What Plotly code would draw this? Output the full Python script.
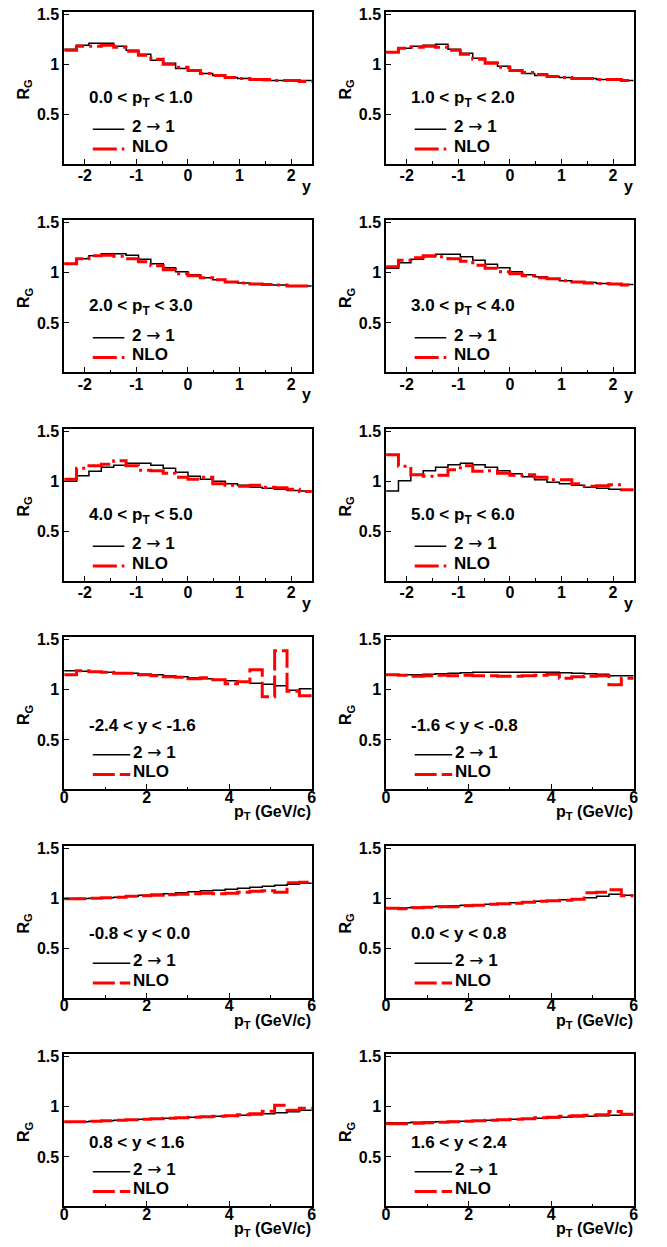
import numpy as np
import plotly.graph_objects as go

W, H = 667, 1247

# ---------------- data ----------------
y_edges = np.round(np.linspace(-2.4, 2.4, 21), 3)   # 20 bins of rapidity
pt_edges = np.round(np.linspace(0.0, 6.0, 21), 3)   # 20 bins of pT

# R_G vs y in pT slices
y_pt01_21 = [1.15, 1.19, 1.21, 1.21, 1.18, 1.14, 1.10, 1.04, 1.01, 0.96, 0.94, 0.91, 0.89, 0.87, 0.86, 0.85, 0.84, 0.84, 0.84, 0.84]
y_pt01_nlo = [1.14, 1.18, 1.18, 1.19, 1.17, 1.13, 1.09, 1.05, 1.00, 0.97, 0.94, 0.91, 0.89, 0.87, 0.86, 0.85, 0.85, 0.84, 0.84, 0.83]
y_pt12_21 = [1.12, 1.16, 1.18, 1.19, 1.20, 1.15, 1.11, 1.06, 1.02, 0.98, 0.94, 0.91, 0.89, 0.88, 0.87, 0.86, 0.86, 0.85, 0.85, 0.84]
y_pt12_nlo = [1.12, 1.16, 1.17, 1.18, 1.17, 1.14, 1.10, 1.05, 1.01, 0.97, 0.94, 0.92, 0.90, 0.88, 0.87, 0.86, 0.86, 0.85, 0.85, 0.84]
y_pt23_21 = [1.09, 1.14, 1.17, 1.19, 1.19, 1.175, 1.135, 1.09, 1.05, 1.01, 0.98, 0.95, 0.93, 0.91, 0.90, 0.89, 0.88, 0.88, 0.87, 0.87]
y_pt23_nlo = [1.09, 1.14, 1.17, 1.175, 1.165, 1.14, 1.11, 1.07, 1.03, 0.99, 0.97, 0.95, 0.93, 0.91, 0.90, 0.89, 0.885, 0.88, 0.87, 0.87]
y_pt34_21 = [1.045, 1.10, 1.135, 1.16, 1.185, 1.185, 1.16, 1.125, 1.085, 1.05, 1.01, 0.98, 0.96, 0.94, 0.92, 0.91, 0.905, 0.895, 0.89, 0.885]
y_pt34_nlo = [1.06, 1.125, 1.15, 1.17, 1.16, 1.14, 1.115, 1.075, 1.045, 1.01, 0.99, 0.97, 0.95, 0.94, 0.92, 0.91, 0.90, 0.895, 0.89, 0.88]
y_pt45_21 = [1.00, 1.055, 1.10, 1.14, 1.16, 1.18, 1.18, 1.16, 1.13, 1.09, 1.05, 1.02, 1.00, 0.975, 0.96, 0.94, 0.93, 0.92, 0.91, 0.905]
y_pt45_nlo = [1.02, 1.13, 1.155, 1.17, 1.205, 1.155, 1.11, 1.105, 1.08, 1.04, 1.02, 1.04, 0.975, 0.96, 0.95, 0.96, 0.94, 0.935, 0.92, 0.90]
y_pt56_21 = [0.905, 1.005, 1.065, 1.105, 1.14, 1.165, 1.18, 1.165, 1.14, 1.105, 1.075, 1.045, 1.015, 0.99, 0.975, 0.96, 0.94, 0.93, 0.92, 0.915]
y_pt56_nlo = [1.265, 1.15, 1.065, 1.05, 1.06, 1.115, 1.155, 1.10, 1.105, 1.08, 1.06, 1.065, 1.04, 1.015, 1.015, 0.975, 0.95, 0.955, 0.965, 0.915]

# R_G vs pT in y slices
pt_ym24_21 = [1.19, 1.185, 1.18, 1.175, 1.17, 1.165, 1.155, 1.15, 1.14, 1.13, 1.12, 1.11, 1.10, 1.09, 1.08, 1.065, 1.055, 1.04, 0.995, 1.01]
pt_ym24_nlo = [1.15, 1.19, 1.18, 1.175, 1.165, 1.165, 1.15, 1.14, 1.13, 1.125, 1.11, 1.12, 1.10, 1.06, 1.08, 1.20, 0.93, 1.39, 0.985, 0.94]
pt_ym16_21 = [1.15, 1.15, 1.15, 1.155, 1.16, 1.165, 1.17, 1.175, 1.175, 1.175, 1.175, 1.175, 1.175, 1.175, 1.17, 1.165, 1.16, 1.155, 1.14, 1.14]
pt_ym16_nlo = [1.15, 1.145, 1.135, 1.14, 1.145, 1.14, 1.145, 1.14, 1.14, 1.135, 1.135, 1.14, 1.145, 1.155, 1.115, 1.13, 1.135, 1.14, 1.05, 1.115]
pt_ym08_21 = [0.995, 0.998, 1.0, 1.005, 1.01, 1.02, 1.03, 1.04, 1.045, 1.055, 1.065, 1.075, 1.08, 1.09, 1.10, 1.11, 1.12, 1.13, 1.14, 1.15]
pt_ym08_nlo = [0.995, 0.995, 1.0, 1.005, 1.01, 1.02, 1.025, 1.03, 1.035, 1.04, 1.045, 1.05, 1.045, 1.05, 1.06, 1.07, 1.075, 1.06, 1.155, 1.16]
pt_y00_21 = [0.905, 0.905, 0.91, 0.915, 0.92, 0.925, 0.93, 0.935, 0.94, 0.945, 0.955, 0.96, 0.97, 0.975, 0.985, 0.995, 1.005, 1.02, 1.04, 1.03]
pt_y00_nlo = [0.90, 0.895, 0.905, 0.91, 0.915, 0.915, 0.925, 0.93, 0.94, 0.945, 0.95, 0.96, 0.97, 0.975, 0.98, 0.99, 1.055, 1.06, 1.085, 1.025]
pt_y08_21 = [0.85, 0.852, 0.855, 0.86, 0.865, 0.87, 0.875, 0.88, 0.885, 0.89, 0.895, 0.90, 0.905, 0.91, 0.915, 0.92, 0.93, 0.94, 0.95, 0.965]
pt_y08_nlo = [0.85, 0.85, 0.855, 0.86, 0.865, 0.87, 0.875, 0.88, 0.885, 0.89, 0.895, 0.90, 0.905, 0.91, 0.92, 0.93, 0.955, 1.015, 0.967, 0.987]
pt_y16_21 = [0.84, 0.842, 0.845, 0.848, 0.85, 0.853, 0.856, 0.86, 0.865, 0.87, 0.875, 0.88, 0.885, 0.89, 0.895, 0.90, 0.905, 0.91, 0.915, 0.92]
pt_y16_nlo = [0.83, 0.83, 0.835, 0.84, 0.845, 0.85, 0.855, 0.86, 0.865, 0.87, 0.875, 0.88, 0.89, 0.895, 0.905, 0.91, 0.915, 0.92, 0.954, 0.927]

y_slice_labels = ["0.0 &lt; p<sub>T</sub> &lt; 1.0", "1.0 &lt; p<sub>T</sub> &lt; 2.0",
                  "2.0 &lt; p<sub>T</sub> &lt; 3.0", "3.0 &lt; p<sub>T</sub> &lt; 4.0",
                  "4.0 &lt; p<sub>T</sub> &lt; 5.0", "5.0 &lt; p<sub>T</sub> &lt; 6.0"]
pt_slice_labels = ["-2.4 &lt; y &lt; -1.6", "-1.6 &lt; y &lt; -0.8", "-0.8 &lt; y &lt; 0.0",
                   "0.0 &lt; y &lt; 0.8", "0.8 &lt; y &lt; 1.6", "1.6 &lt; y &lt; 2.4"]
series_names = ["2 <span style=\"font-family:'DejaVu Sans';font-weight:normal\">\u2192</span> 1", "NLO"]

panels = [
    ("y", y_slice_labels[0], y_pt01_21, y_pt01_nlo),
    ("y", y_slice_labels[1], y_pt12_21, y_pt12_nlo),
    ("y", y_slice_labels[2], y_pt23_21, y_pt23_nlo),
    ("y", y_slice_labels[3], y_pt34_21, y_pt34_nlo),
    ("y", y_slice_labels[4], y_pt45_21, y_pt45_nlo),
    ("y", y_slice_labels[5], y_pt56_21, y_pt56_nlo),
    ("pt", pt_slice_labels[0], pt_ym24_21, pt_ym24_nlo),
    ("pt", pt_slice_labels[1], pt_ym16_21, pt_ym16_nlo),
    ("pt", pt_slice_labels[2], pt_ym08_21, pt_ym08_nlo),
    ("pt", pt_slice_labels[3], pt_y00_21, pt_y00_nlo),
    ("pt", pt_slice_labels[4], pt_y08_21, pt_y08_nlo),
    ("pt", pt_slice_labels[5], pt_y16_21, pt_y16_nlo),
]

# ---------------- layout geometry (pixels) ----------------
FONT = "Liberation Sans, Arial, Helvetica, sans-serif"
col_left = [61.0, 387.3]
frame_w = 251.0
px_per_unit = 100.7
row_p15 = [8.3 + 209.5 * r for r in range(6)]
y_lo = 1.5 - 150.0 / px_per_unit
y_hi = 1.5 + 2.3 / px_per_unit
RED = "#ff0000"
dash_y = "24px,5px,3px,5px"
dash_pt = "22px,5px"


def fx(px):
    return px / W


def fy(py):
    return 1 - py / H


fig = go.Figure()
annotations = []
shapes = []
layout_axes = {}

for i, (kind, label, v21, vnlo) in enumerate(panels):
    r, c = divmod(i, 2)
    L = col_left[c]
    p15 = row_p15[r]
    top = p15 - 2.3
    bot = p15 + 150.0
    k = "" if i == 0 else str(i + 1)
    edges = y_edges if kind == "y" else pt_edges
    dash = dash_y if kind == "y" else dash_pt

    xs = list(edges)
    fig.add_trace(go.Scatter(x=xs, y=list(v21) + [v21[-1]], mode="lines", line_shape="hv",
                             line=dict(color="black", width=1.5), xaxis="x" + k, yaxis="y" + k,
                             showlegend=False, hoverinfo="skip"))
    fig.add_trace(go.Scatter(x=xs, y=list(vnlo) + [vnlo[-1]], mode="lines", line_shape="hv",
                             line=dict(color=RED, width=3, dash=dash), xaxis="x" + k, yaxis="y" + k,
                             showlegend=False, hoverinfo="skip"))

    if kind == "y":
        xr, mdt = [-2.4, 2.4], 0.5
        tvals = [-2, -1, 0, 1, 2]
        standoff = -3
        leg_x1, txt_x = 61, 67
    else:
        xr, mdt = [0, 6], 1
        tvals = [0, 2, 4, 6]
        standoff = -7
        leg_x1, txt_x = 67, 68
    tick_font = dict(family=FONT, size=16, color="black", weight="bold")
    layout_axes["xaxis" + k] = dict(
        domain=[fx(L), fx(L + frame_w)], anchor="y" + k, range=xr,
        tickvals=tvals, ticktext=[str(t) for t in tvals],
        ticks="inside", ticklen=5, tickwidth=1, tickcolor="black",
        minor=dict(dtick=mdt, tick0=0, ticks="inside", ticklen=2.5, tickwidth=1, tickcolor="black"),
        showline=True, linecolor="black", linewidth=1.5, mirror=True,
        showgrid=False, zeroline=False, tickfont=tick_font, ticklabelstandoff=standoff,
        fixedrange=True)
    layout_axes["yaxis" + k] = dict(
        domain=[fy(bot), fy(top)], anchor="x" + k, range=[y_lo, y_hi],
        tickvals=[0.5, 1.0, 1.5], ticktext=["0.5", "1", "1.5"],
        ticks="inside", ticklen=5, tickwidth=1, tickcolor="black",
        showline=True, linecolor="black", linewidth=1.5, mirror=True,
        showgrid=False, zeroline=False, tickfont=tick_font, fixedrange=True)

    txt_font = dict(family=FONT, size=16, color="black", weight="bold")
    leg_font = dict(family=FONT, size=17, color="black", weight="bold")
    # y-axis title
    annotations.append(dict(text="R<sub>G</sub>", x=fx(L - 40), y=fy(p15 + 75), xref="paper", yref="paper",
                            textangle=-90, showarrow=False, xanchor="center", yanchor="middle", font=txt_font))
    # x-axis title
    xt = "y" if kind == "y" else "p<sub>T</sub> (GeV/c)"
    ty = p15 + 173 if kind == "y" else p15 + 174
    annotations.append(dict(text=xt, x=fx(L + frame_w + 1), y=fy(ty), xref="paper", yref="paper",
                            showarrow=False, xanchor="right", yanchor="middle", font=txt_font))
    # legend header
    hy = p15 + 85 if kind == "y" else p15 + 86
    annotations.append(dict(text=label, x=fx(L + 23), y=fy(hy), xref="paper", yref="paper",
                            showarrow=False, xanchor="left", yanchor="middle", font=leg_font))
    # legend entries
    for j, (nm, col, w, d) in enumerate([(series_names[0], "black", 1.5, "solid"),
                                         (series_names[1], RED, 3, dash)]):
        ly = p15 + (115.5 if j == 0 else 135.5)
        shapes.append(dict(type="line", xref="paper", yref="paper",
                           x0=fx(L + 29), x1=fx(L + leg_x1), y0=fy(ly), y1=fy(ly),
                           line=dict(color=col, width=w, dash=d)))
        annotations.append(dict(text=nm, x=fx(L + txt_x), y=fy(ly - 3), xref="paper", yref="paper",
                                showarrow=False, xanchor="left", yanchor="middle", font=leg_font))

fig.update_layout(
    width=W, height=H, margin=dict(l=0, r=0, t=0, b=0),
    paper_bgcolor="white", plot_bgcolor="white", showlegend=False,
    annotations=annotations, shapes=shapes, **layout_axes)

fig.write_html("out.html")
